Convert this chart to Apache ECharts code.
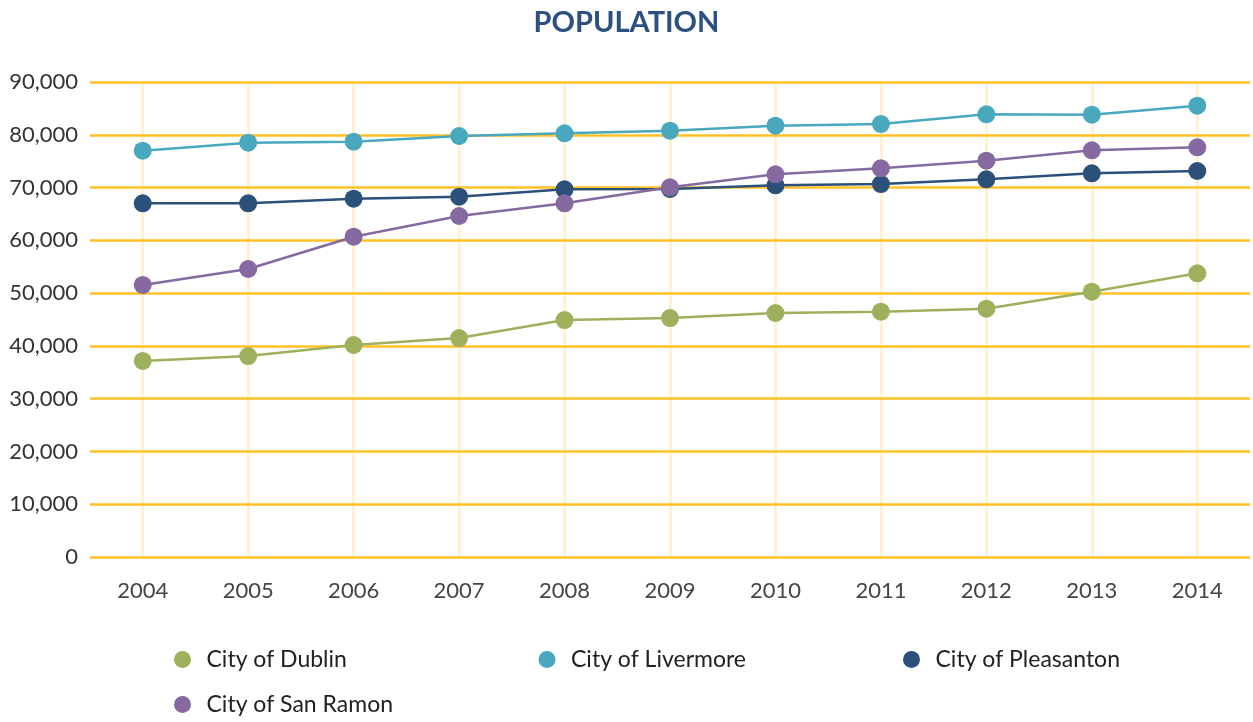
<!DOCTYPE html>
<html lang="en">
	<head>
		<meta charset="UTF-8">
		<title>Population</title>
		<style type="text/css">
			html,
			body,
			#main {
				padding: 0;
				margin: 0;
				overflow: hidden;
				background-color: #fff;
				width: 100%;
				height: 100%;
			}
		</style>
	</head>
	<body>
		<div id="main"></div>
		<script type="text/javascript" src="https://cdn.jsdelivr.net/npm/echarts@6/dist/echarts.min.js"></script>
		<script type="text/javascript">
			// data
			const years = ['2004', '2005', '2006', '2007', '2008', '2009', '2010', '2011', '2012', '2013', '2014'];
			const dublin = [37140, 38080, 40170, 41490, 44900, 45280, 46230, 46480, 47050, 50270, 53750];
			const livermore = [76980, 78500, 78690, 79770, 80280, 80770, 81720, 82040, 83880, 83800, 85510];
			const pleasanton = [67010, 67010, 67890, 68270, 69670, 69730, 70430, 70670, 71560, 72700, 73135];
			const sanRamon = [51540, 54570, 60690, 64610, 67010, 70040, 72510, 73650, 75090, 77050, 77620];
			const names = ['City of Dublin', 'City of Livermore', 'City of Pleasanton', 'City of San Ramon'];
			const yMax = 90000;
			const yStep = 10000;

			const fontName = 'Lato, "Noto Sans", sans-serif';

			function line (name, data, color) {
				return {
					name: name,
					type: 'line',
					data: data,
					z: 2,
					symbol: 'circle',
					symbolSize: 18,
					color: color,
					lineStyle: { width: 2.5, color: color },
					itemStyle: { color: color },
					emphasis: { disabled: true }
				};
			}

			const dublinSeries = line(names[0], dublin, '#9db15c');
			// pale vertical guide at every year, kept under the gold value grid
			dublinSeries.markLine = {
				silent: true,
				z: 0.5,
				symbol: 'none',
				label: { show: false },
				lineStyle: { color: '#fef2d3', width: 3, type: 'solid' },
				data: years.map(function (y) { return { xAxis: y }; })
			};

			const chart = echarts.init(document.getElementById('main'));
			chart.setOption({
				animation: false,
				textStyle: { fontFamily: fontName },
				title: {
					text: 'POPULATION',
					left: 'center',
					top: 3,
					textStyle: { color: '#2b5081', fontSize: 29, fontWeight: 'bold', fontFamily: fontName }
				},
				grid: { left: 90, right: 3, top: 82, bottom: 165, containLabel: false },
				xAxis: {
					type: 'category',
					data: years,
					boundaryGap: true,
					axisLine: { show: false },
					axisTick: { show: false },
					axisLabel: { color: '#444', fontSize: 22, margin: 23, fontFamily: fontName },
					splitLine: { show: false }
				},
				yAxis: {
					type: 'value',
					z: 1,
					min: 0,
					max: yMax,
					interval: yStep,
					axisLine: { show: false },
					axisTick: { show: false },
					axisLabel: {
						color: '#333',
						fontSize: 22,
						margin: 12,
						fontFamily: fontName,
						formatter: function (v) { return v.toLocaleString('en-US'); }
					},
					splitLine: { lineStyle: { color: '#ffc125', width: 2.5 } }
				},
				legend: {
					data: names,
					left: 169,
					top: 643,
					width: 1080,
					icon: 'circle',
					itemWidth: 38,
					itemHeight: 17,
					itemGap: 22,
					textStyle: { color: '#222', fontSize: 23, width: 310, lineHeight: 23, fontFamily: fontName }
				},
				series: [
					dublinSeries,
					line(names[1], livermore, '#49a8be'),
					line(names[2], pleasanton, '#2b5079'),
					line(names[3], sanRamon, '#8669a0')
				]
			});
		</script>
	</body>
</html>
